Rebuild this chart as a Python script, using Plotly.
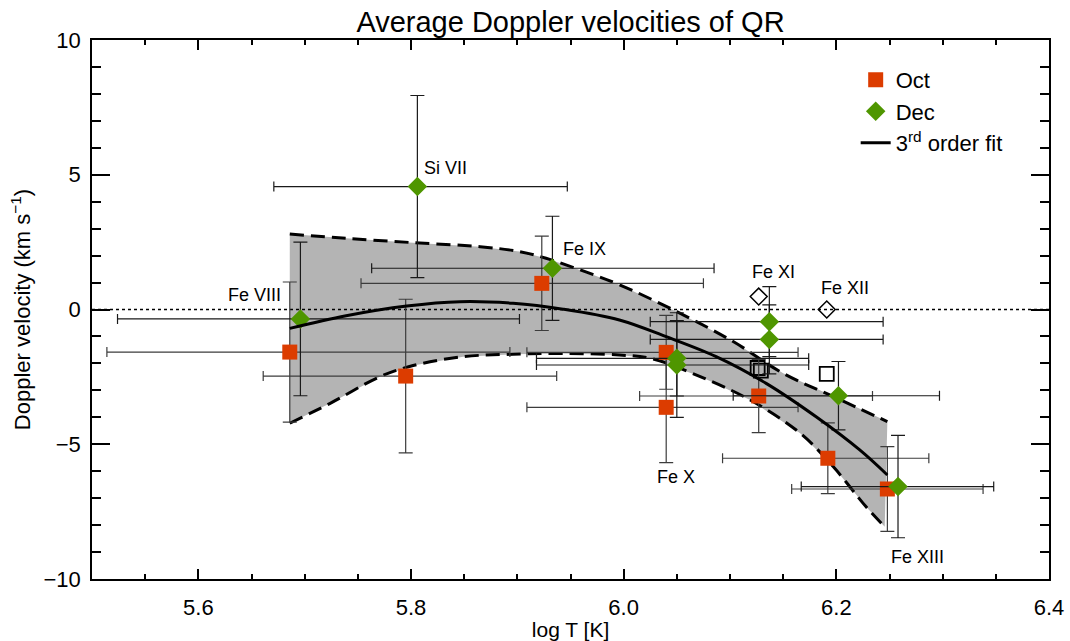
import plotly.graph_objects as go

# ---------------- data ----------------
oct_x = [5.686, 5.795, 5.923, 6.040, 6.040, 6.127, 6.192, 6.248]
oct_y = [-1.58, -2.47, 0.97, -1.59, -3.63, -3.21, -5.52, -6.66]
oct_yerr = [2.60, 2.85, 1.75, 1.37, 2.05, 1.36, 1.31, 1.57]
oct_xerr_plus = [0.207, 0.142, 0.152, 0.124, 0.124, 0.107, 0.095, 0.090]
oct_xerr_minus = [0.172, 0.134, 0.170, 0.131, 0.131, 0.112, 0.099, 0.090]

dec_x = [5.696, 5.806, 5.933, 6.050, 6.050, 6.137, 6.137, 6.202, 6.258]
dec_y = [-0.35, 4.56, 1.53, -1.81, -2.06, -0.45, -1.11, -3.20, -6.57]
dec_yerr = [2.85, 3.38, 1.93, 1.40, 1.94, 1.30, 1.28, 1.27, 1.90]
dec_xerr_plus = [0.206, 0.141, 0.152, 0.124, 0.124, 0.107, 0.107, 0.095, 0.090]
dec_xerr_minus = [0.172, 0.135, 0.170, 0.132, 0.132, 0.112, 0.112, 0.099, 0.091]

open_sq_x = [6.126, 6.129, 6.191]
open_sq_y = [-2.17, -2.27, -2.39]
open_dm_x = [6.127, 6.191]
open_dm_y = [0.48, 0.00]

fit_x = [5.686, 5.739, 5.796, 5.846, 5.896, 5.943, 5.996, 6.040, 6.087, 6.134, 6.181, 6.222, 6.248]
fit_y = [-0.70, -0.23, 0.13, 0.29, 0.23, 0.01, -0.39, -1.01, -1.75, -2.74, -3.98, -5.21, -6.14]

upper_x = [5.686, 5.739, 5.802, 5.865, 5.902, 5.927, 5.959, 5.996, 6.050, 6.103, 6.150, 6.197, 6.248]
upper_y = [2.80, 2.64, 2.48, 2.33, 2.15, 1.90, 1.47, 0.92, -0.08, -1.19, -2.37, -3.23, -4.16]

lower_x = [5.686, 5.724, 5.771, 5.802, 5.849, 5.896, 5.943, 5.996, 6.025, 6.072, 6.119,
           6.166, 6.197, 6.228, 6.2455]
lower_y = [-4.22, -3.48, -2.49, -2.08, -1.75, -1.66, -1.63, -1.69, -1.81, -2.49, -3.36,
           -4.59, -5.83, -7.32, -8.06]

zero_x = [5.5, 6.4]
zero_y = [0, 0]

label_text = ["Fe VIII", "Si VII", "Fe IX", "Fe X", "Fe XI", "Fe XII", "Fe XIII"]
label_x = [5.680, 5.810, 5.941, 6.049, 6.141, 6.208, 6.276]
label_y = [0.54, 5.25, 2.23, -6.20, 1.39, 0.80, -9.19]
label_anchor = ["right", "left", "left", "center", "center", "center", "center"]

# ---------------- styles ----------------
FONT = "Liberation Sans, Arial, Helvetica, sans-serif"
RED = "#dc3c00"
GREEN = "#4f9600"
GREY_FILL = "#b4b4b4"

fig = go.Figure()

# shaded uncertainty band
fig.add_trace(go.Scatter(
    x=upper_x + lower_x[::-1], y=upper_y + lower_y[::-1],
    mode="lines", fill="toself", fillcolor=GREY_FILL,
    line=dict(width=0), showlegend=False, hoverinfo="skip"))

# dashed band edges
fig.add_trace(go.Scatter(x=upper_x, y=upper_y, mode="lines",
                         line=dict(color="black", width=3, dash="14px,7px", shape="spline"),
                         showlegend=False))
fig.add_trace(go.Scatter(x=lower_x, y=lower_y, mode="lines",
                         line=dict(color="black", width=3, dash="14px,7px", shape="spline"),
                         showlegend=False))

# zero line
fig.add_trace(go.Scatter(x=zero_x, y=zero_y, mode="lines",
                         line=dict(color="black", width=1.5, dash="dot"),
                         showlegend=False))

# open symbols
fig.add_trace(go.Scatter(x=open_sq_x, y=open_sq_y, mode="markers",
                         marker=dict(symbol="square-open", size=14, color="black",
                                     line=dict(width=1.8, color="black")),
                         showlegend=False))
fig.add_trace(go.Scatter(x=open_dm_x, y=open_dm_y, mode="markers",
                         marker=dict(symbol="diamond-open", size=13, color="black",
                                     line=dict(width=1.5, color="black")),
                         showlegend=False))

# data with error bars
fig.add_trace(go.Scatter(
    x=oct_x, y=oct_y, mode="markers", name="Oct",
    marker=dict(symbol="square", size=15, color=RED),
    error_y=dict(type="data", array=oct_yerr, color="#3c3c3c", thickness=1.2, width=7),
    error_x=dict(type="data", array=oct_xerr_plus, arrayminus=oct_xerr_minus,
                 color="#3c3c3c", thickness=1.2, width=5)))
fig.add_trace(go.Scatter(
    x=dec_x, y=dec_y, mode="markers", name="Dec",
    marker=dict(symbol="diamond", size=15, color=GREEN),
    error_y=dict(type="data", array=dec_yerr, color="#1a1a1a", thickness=1.2, width=7),
    error_x=dict(type="data", array=dec_xerr_plus, arrayminus=dec_xerr_minus,
                 color="#1a1a1a", thickness=1.2, width=5)))

# fit
fig.add_trace(go.Scatter(x=fit_x, y=fit_y, mode="lines", name="3<sup>rd</sup> order fit",
                         line=dict(color="black", width=3, shape="spline")))

for t, x, y, a in zip(label_text, label_x, label_y, label_anchor):
    fig.add_annotation(x=x, y=y, text=t, showarrow=False, xanchor=a, yanchor="middle",
                       font=dict(family=FONT, size=18, color="black"))

axis_common = dict(
    showline=True, linecolor="black", linewidth=1.5, mirror="allticks",
    ticks="inside", tickcolor="black", tickwidth=1.5,
    showgrid=False, zeroline=False, automargin=False,
    tickfont=dict(family=FONT, size=22, color="black"),
)

fig.update_xaxes(range=[5.5, 6.4], dtick=0.2, tick0=5.6, tickformat=".1f", ticklen=10,
                 minor=dict(dtick=0.05, ticklen=5, ticks="inside", tickcolor="black",
                            tickwidth=1.5, showgrid=False),
                 ticklabelstandoff=8,
                 title=dict(text="log T [K]", font=dict(family=FONT, size=21, color="black"),
                            standoff=4),
                 **axis_common)
fig.update_yaxes(range=[-10, 10], dtick=5, ticklen=18,
                 minor=dict(dtick=1, ticklen=9, ticks="inside", tickcolor="black",
                            tickwidth=1.5, showgrid=False),
                 ticklabelstandoff=5,
                 title=dict(text="Doppler velocity (km s<sup>\u22121</sup>)",
                            font=dict(family=FONT, size=22, color="black"), standoff=7),
                 **axis_common)

fig.update_layout(
    width=1070, height=641,
    margin=dict(l=92, r=21, t=40, b=62),
    paper_bgcolor="white", plot_bgcolor="white",
    title=dict(text="Average Doppler velocities of QR", x=0.5, xref="paper",
               y=0.966, yanchor="middle",
               font=dict(family=FONT, size=29, color="black")),
    legend=dict(x=0.798, y=0.965, xanchor="left", yanchor="top",
                bgcolor="rgba(0,0,0,0)", borderwidth=0,
                font=dict(family=FONT, size=22, color="black")),
    font=dict(family=FONT, color="black"),
    showlegend=True,
)

fig.write_html("out.html", config={"displayModeBar": False},
               post_script="document.body.style.margin='0';document.body.style.overflow='hidden';")
